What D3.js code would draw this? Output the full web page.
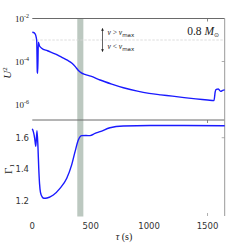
<!DOCTYPE html>
<html>
<meta charset="utf-8">
<style>
 body { margin: 0; background: #fff; }
 .tick_lab { font-family: "DejaVu Sans", sans-serif; font-size: 8.5px; fill: #333; }
 .math { font-family: "Liberation Serif", serif; fill: #222; }
</style>
<body>
<script src="https://d3js.org/d3.v7.min.js"></script>
<script>

var width = 249
var height = 245

// tau (s) and log10(U^2)
var tauU = [0, 10, 22, 30, 38, 43, 46, 52, 62, 80, 130, 200, 250, 300, 340, 370, 395, 420, 450, 500,
            580, 680, 780, 900, 1000, 1100, 1200, 1300, 1400, 1500, 1555, 1566, 1575, 1592, 1612, 1630, 1647];
var logU2 = [-2.64, -2.65, -2.70, -2.80, -3.05, -4.50, -4.55, -3.10, -3.28, -3.38, -3.50, -3.66, -3.80, -3.94, -4.08, -4.25, -4.42, -4.53, -4.60, -4.68,
             -4.86, -5.05, -5.22, -5.38, -5.48, -5.55, -5.61, -5.68, -5.74, -5.79, -5.82, -5.40, -5.30, -5.28, -5.39, -5.34, -5.32];

// tau (s) and Gamma_1
var tauG = [0, 10, 20, 30, 40, 48, 55, 62, 70, 85, 100, 126, 180, 237, 295, 337, 366, 394, 423, 460, 494,
            537, 580, 665, 779, 1008, 1300, 1647];
var gamma1 = [1.657, 1.635, 1.598, 1.545, 1.645, 1.550, 1.41, 1.31, 1.255, 1.225, 1.217, 1.219, 1.238, 1.280, 1.344, 1.428, 1.512, 1.585, 1.613, 1.614, 1.613,
              1.627, 1.638, 1.663, 1.674, 1.677, 1.677, 1.676];

var xTicks = [0, 500, 1000, 1500]
var uTicks = [-2, -4, -6]          // exponents
var gTicks = [1.2, 1.4, 1.6]
var band = [385, 437]              // shaded tau range
var nuMaxLevel = 1e-3

var svg = d3.select("body").append("svg")
    .attr("width", width)
    .attr("height", height);

var x = d3.scaleLinear().domain([0, 1647]).range([32.3, 224.7]);
var yU = d3.scaleLog().domain([1e-2, Math.pow(10, -6.72)]).range([18.5, 120]);
var yG = d3.scaleLinear().domain([1.712, 1.105]).range([120, 216]);

// shaded band through both panels
svg.append("rect")
    .attr("x", x(band[0]))
    .attr("y", 18.5)
    .attr("width", x(band[1]) - x(band[0]))
    .attr("height", 216.5 - 18.5)
    .attr("fill", "#bcc8c0");

// nu_max dashed level
svg.append("line")
    .attr("x1", x(0)).attr("x2", x(1647))
    .attr("y1", yU(nuMaxLevel)).attr("y2", yU(nuMaxLevel))
    .attr("stroke", "#d4d4d4").attr("stroke-width", 0.8)
    .attr("stroke-dasharray", "2.5,1.5");

// spines: top + right only
var spine = "#6a6a6a";
svg.append("line").attr("x1", x(0)).attr("x2", x(1647)).attr("y1", 18.5).attr("y2", 18.5)
    .attr("stroke", spine).attr("stroke-width", 1);
svg.append("line").attr("x1", x(0)).attr("x2", x(1647)).attr("y1", 120).attr("y2", 120)
    .attr("stroke", spine).attr("stroke-width", 1);
svg.append("line").attr("x1", x(1647)).attr("x2", x(1647)).attr("y1", 18.5).attr("y2", 216)
    .attr("stroke", "#999").attr("stroke-width", 1);

// the few inward ticks that show
[18.5, 120].forEach(function (yy) {
  svg.append("line").attr("x1", x(1500)).attr("x2", x(1500)).attr("y1", yy).attr("y2", yy + 3)
    .attr("stroke", spine).attr("stroke-width", 0.8);
});
svg.append("line").attr("x1", x(1500)).attr("x2", x(1500)).attr("y1", 213).attr("y2", 216)
    .attr("stroke", "#999").attr("stroke-width", 0.8);
svg.append("line").attr("x1", x(1647) - 3).attr("x2", x(1647)).attr("y1", yU(1e-4)).attr("y2", yU(1e-4))
    .attr("stroke", "#999").attr("stroke-width", 0.8);
svg.append("line").attr("x1", x(1647) - 3).attr("x2", x(1647)).attr("y1", yG(1.6)).attr("y2", yG(1.6))
    .attr("stroke", "#999").attr("stroke-width", 0.8);

// curves
var uLine = d3.line()
    .x(function (d) { return x(d[0]); })
    .y(function (d) { return yU(Math.pow(10, d[1])); })
    .curve(d3.curveMonotoneX);
svg.append("path")
    .datum(d3.zip(tauU, logU2))
    .attr("d", uLine)
    .attr("fill", "none").attr("stroke", "#1a1aff").attr("stroke-width", 1.4);

var gLine = d3.line()
    .x(function (d) { return x(d[0]); })
    .y(function (d) { return yG(d[1]); })
    .curve(d3.curveMonotoneX);
svg.append("path")
    .datum(d3.zip(tauG, gamma1))
    .attr("d", gLine)
    .attr("fill", "none").attr("stroke", "#1a1aff").attr("stroke-width", 1.4);

// y tick labels, top (10^n)
uTicks.forEach(function (e) {
  var t = svg.append("text").attr("class", "math")
      .attr("x", 29).attr("y", yU(Math.pow(10, e)) + 3)
      .attr("text-anchor", "end");
  t.append("tspan").attr("font-size", "9px").text("10");
  t.append("tspan").attr("font-size", "6px").attr("dy", -4).text("-" + Math.abs(e));
});

// y tick labels, bottom
svg.selectAll(".gtick").data(gTicks).enter().append("text")
    .attr("class", "tick_lab")
    .attr("x", 29).attr("y", function (d) { return yG(d) + 3; })
    .attr("text-anchor", "end")
    .text(function (d) { return d3.format(".1f")(d); });

// x tick labels
svg.selectAll(".xtick").data(xTicks).enter().append("text")
    .attr("class", "tick_lab")
    .attr("x", function (d) { return x(d); }).attr("y", 229)
    .attr("text-anchor", "middle")
    .text(function (d) { return d; });

// axis titles
var xl = svg.append("text").attr("class", "math").attr("font-size", "10px")
    .attr("x", 124).attr("y", 240).attr("text-anchor", "middle");
xl.append("tspan").attr("font-style", "italic").text("τ");
xl.append("tspan").text(" (s)");

var ul = svg.append("text").attr("class", "math").attr("font-size", "11px")
    .attr("text-anchor", "middle")
    .attr("transform", "translate(10.5,73) rotate(-90)");
ul.append("tspan").attr("font-style", "italic").text("U");
ul.append("tspan").attr("font-size", "7px").attr("dy", -4).text("2");

var gl = svg.append("text").attr("class", "math").attr("font-size", "11px")
    .attr("text-anchor", "middle")
    .attr("transform", "translate(12,169) rotate(-90)");
gl.append("tspan").text("Γ");
gl.append("tspan").attr("font-size", "7px").attr("dy", 2).text("1");

// nu annotation
var ax = 102.5, ay0 = 27.5, ay1 = 52.5;
svg.append("defs").append("marker")
    .attr("id", "ah").attr("viewBox", "0 0 6 6").attr("refX", 5).attr("refY", 3)
    .attr("markerWidth", 4).attr("markerHeight", 4).attr("orient", "auto-start-reverse")
  .append("path").attr("d", "M0,0 L6,3 L0,6 z").attr("fill", "#222");
svg.append("line")
    .attr("x1", ax).attr("x2", ax).attr("y1", ay0 + 1).attr("y2", ay1 - 1)
    .attr("stroke", "#222").attr("stroke-width", 0.7)
    .attr("marker-start", "url(#ah)").attr("marker-end", "url(#ah)");

[[">", 35], ["<", 49]].forEach(function (p) {
  var t = svg.append("text").attr("class", "math").attr("font-size", "7.5px")
      .attr("x", 107.5).attr("y", p[1]).attr("fill", "#333");
  t.append("tspan").attr("font-style", "italic").text("ν");
  t.append("tspan").text(" " + p[0] + " ");
  t.append("tspan").attr("font-style", "italic").text("ν");
  t.append("tspan").attr("font-family", "DejaVu Sans, sans-serif").attr("font-size", "5.5px")
      .attr("dy", 1.5).text("max");
});

// mass label
var ml = svg.append("text").attr("class", "math").attr("font-size", "11.5px")
    .attr("x", 219).attr("y", 35).attr("text-anchor", "end");
ml.append("tspan").text("0.8 ");
ml.append("tspan").attr("font-style", "italic").text("M");
ml.append("tspan").attr("font-size", "6px").attr("dy", 2).text("⊙");

</script>
</body>
</html>
